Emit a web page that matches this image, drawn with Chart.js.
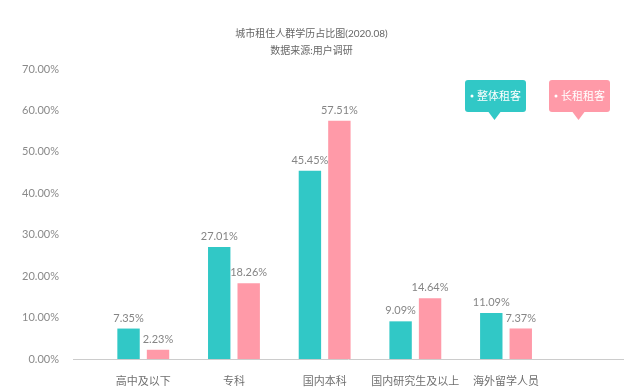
<!DOCTYPE html>
<html>
<head>
<meta charset="utf-8">
<script src="https://cdn.jsdelivr.net/npm/chart.js@4.4.0/dist/chart.umd.min.js"></script>
<style>
html, body { margin: 0; padding: 0; background: #fff; }
</style>
</head>
<body>
<canvas id="chart" width="643" height="389"></canvas>
<script>
const categories = ['高中及以下', '专科', '国内本科', '国内研究生及以上', '海外留学人员'];
const seriesNames = ['整体租客', '长租租客'];
const wholeRent = [7.35, 27.01, 45.45, 9.09, 11.09];
const longRent = [2.23, 18.26, 57.51, 14.64, 7.37];
const yTicks = [0, 10, 20, 30, 40, 50, 60, 70];

const FONT = 'Lato, "Noto Sans CJK SC", sans-serif';
const TEAL = '#31c8c6';
const PINK = '#ff9aa8';

// labels above each bar
const valueLabels = {
    id: 'valueLabels',
    afterDatasetsDraw(chart) {
        const ctx = chart.ctx;
        ctx.save();
        ctx.font = '11px ' + FONT;
        ctx.fillStyle = '#858585';
        ctx.textAlign = 'center';
        ctx.textBaseline = 'bottom';
        chart.data.datasets.forEach((ds, i) => {
            chart.getDatasetMeta(i).data.forEach((bar, j) => {
                ctx.fillText(ds.data[j].y.toFixed(2) + '%', bar.x, bar.y - 5);
            });
        });
        ctx.restore();
    }
};

// speech-bubble legend in the top right corner
const bubbleLegend = {
    id: 'bubbleLegend',
    afterDraw(chart, args, opts) {
        const ctx = chart.ctx;
        ctx.save();
        chart.data.datasets.forEach((ds, i) => {
            const x = opts.left + i * opts.gap, y = opts.top, w = opts.width, h = opts.height;
            ctx.fillStyle = ds.backgroundColor;
            ctx.beginPath();
            ctx.roundRect(x, y, w, h, 3);
            ctx.fill();
            const cx = x + w / 2 - 1;
            ctx.beginPath();
            ctx.moveTo(cx - 6, y + h);
            ctx.lineTo(cx, y + h + 8);
            ctx.lineTo(cx + 6, y + h);
            ctx.closePath();
            ctx.fill();
            ctx.fillStyle = '#fff';
            ctx.beginPath();
            ctx.arc(x + 7, y + h / 2, 1.5, 0, Math.PI * 2);
            ctx.fill();
            ctx.font = '11px ' + FONT;
            ctx.textAlign = 'left';
            ctx.textBaseline = 'middle';
            ctx.fillText(ds.label, x + 12, y + h / 2);
        });
        ctx.restore();
    }
};

new Chart(document.getElementById('chart'), {
    type: 'bar',
    data: {
        datasets: [
            {
                label: seriesNames[0],
                data: wholeRent.map((v, i) => ({x: i, y: v})),
                backgroundColor: TEAL
            },
            {
                label: seriesNames[1],
                data: longRent.map((v, i) => ({x: i, y: v})),
                backgroundColor: PINK
            }
        ]
    },
    options: {
        responsive: false,
        animation: false,
        categoryPercentage: 0.65,
        barPercentage: 0.76,
        layout: {padding: {left: 0, right: 20, top: 0, bottom: 0}},
        plugins: {
            legend: {display: false},
            tooltip: {enabled: false},
            title: {
                display: true,
                text: '城市租住人群学历占比图(2020.08)',
                color: '#666',
                font: {family: FONT, size: 10, weight: 'normal'},
                padding: {top: 28, bottom: 3}
            },
            subtitle: {
                display: true,
                text: '数据来源:用户调研',
                color: '#666',
                font: {family: FONT, size: 10},
                padding: {top: 2, bottom: 12}
            },
            bubbleLegend: {left: 465, top: 80, width: 61, height: 32, gap: 84}
        },
        scales: {
            x: {
                type: 'linear',
                offset: false,
                min: -0.775,
                max: 5.29,
                afterBuildTicks: s => { s.ticks = categories.map((c, i) => ({value: i})); },
                afterFit: s => { s.height = 30; },
                grid: {display: false},
                border: {display: true, color: '#cccccc'},
                ticks: {
                    padding: 8,
                    color: '#707070',
                    font: {family: FONT, size: 11},
                    maxRotation: 0,
                    autoSkip: false,
                    callback: v => categories[v] ?? ''
                }
            },
            y: {
                min: 0,
                max: 70,
                afterBuildTicks: s => { s.ticks = yTicks.map(v => ({value: v})); },
                afterFit: s => { s.width = 73; },
                grid: {display: false},
                border: {display: false},
                ticks: {
                    padding: 6,
                    color: '#8a8a8a',
                    font: {family: FONT, size: 11},
                    callback: v => v.toFixed(2) + '%'
                }
            }
        }
    },
    plugins: [valueLabels, bubbleLegend]
});
</script>
</body>
</html>
